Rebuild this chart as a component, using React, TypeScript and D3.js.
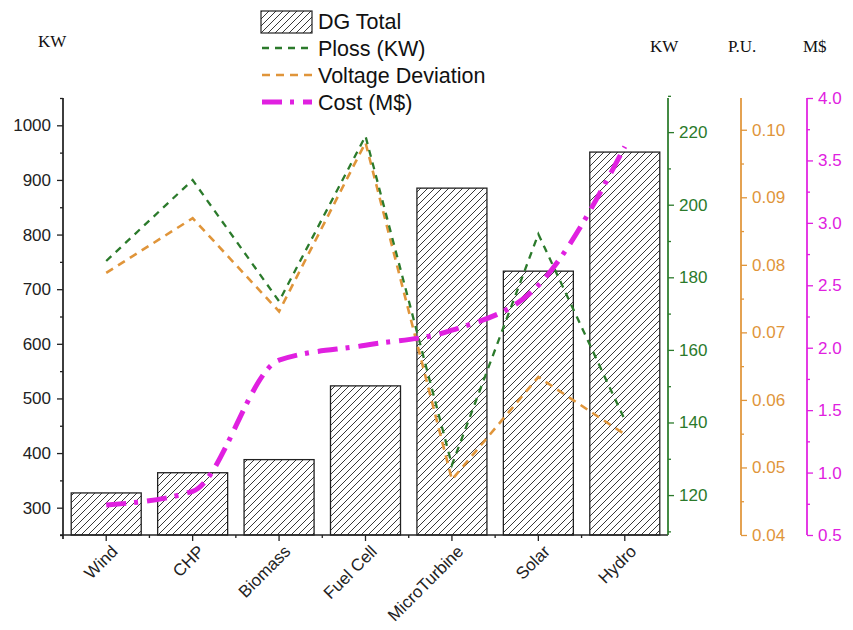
import React, { useEffect, useRef } from 'react';
import * as d3 from 'd3';

// values
const categories = ['Wind', 'CHP', 'Biomass', 'Fuel Cell', 'MicroTurbine', 'Solar', 'Hydro'];
const dgTotal = [327, 364, 388, 523, 885, 733, 951];
const ploss = [184.5, 206.8, 173.4, 218.9, 128.3, 191.9, 140.7];
const voltageDev = [0.0788, 0.0869, 0.0731, 0.0981, 0.0482, 0.0634, 0.0549];
const cost = [0.74, 0.85, 1.9, 2.02, 2.14, 2.5, 3.61];

const leftTicks = [300, 400, 500, 600, 700, 800, 900, 1000];
const plossTicks = [120, 140, 160, 180, 200, 220];
const voltTicks = [0.04, 0.05, 0.06, 0.07, 0.08, 0.09, 0.1];
const costTicks = [0.5, 1.0, 1.5, 2.0, 2.5, 3.0, 3.5, 4.0];

const GREEN = '#2b7a2b';
const ORANGE = '#e0953a';
const MAGENTA = '#e020e0';
const SANS = '"Liberation Sans", Arial, sans-serif';
const SERIF = '"Liberation Serif", "Times New Roman", serif';

export default function App() {
  const ref = useRef<SVGSVGElement>(null);

  useEffect(() => {
    const svg = d3.select(ref.current);
    svg.selectAll('*').remove();

    const top = 98, bottom = 535, left = 63, right = 668;

    const x = d3.scaleBand().domain(categories).range([left, right]).paddingInner(0.19).paddingOuter(0.095);
    const yL = d3.scaleLinear().domain([250, 1050]).range([bottom, top]);
    const yP = d3.scaleLinear().domain([109, 229.4]).range([bottom, top]);
    const yV = d3.scaleLinear().domain([0.04, 0.1047]).range([bottom, top]);
    const yC = d3.scaleLinear().domain([0.5, 4.0]).range([bottom, top]);

    const defs = svg.append('defs');
    const pat = defs.append('pattern')
      .attr('id', 'hatch').attr('patternUnits', 'userSpaceOnUse')
      .attr('width', 7).attr('height', 7);
    pat.append('path')
      .attr('d', 'M-1,1 l2,-2 M0,7 l7,-7 M6,8 l2,-2')
      .attr('stroke', '#222').attr('stroke-width', 0.9);

    // bars
    svg.append('g').selectAll('rect').data(dgTotal).join('rect')
      .attr('x', (d, i) => x(categories[i])!)
      .attr('y', d => yL(d))
      .attr('width', x.bandwidth())
      .attr('height', d => bottom - yL(d))
      .attr('fill', 'url(#hatch)')
      .attr('stroke', '#222').attr('stroke-width', 1.3);

    const cx = (i: number) => x(categories[i])! + x.bandwidth() / 2;

    // lines
    const lineP = d3.line<number>().x((d, i) => cx(i)).y(d => yP(d));
    const lineV = d3.line<number>().x((d, i) => cx(i)).y(d => yV(d));
    const lineC = d3.line<number>().x((d, i) => cx(i)).y(d => yC(d)).curve(d3.curveMonotoneX);

    svg.append('path').attr('d', lineV(voltageDev)!)
      .attr('fill', 'none').attr('stroke', ORANGE).attr('stroke-width', 2.6)
      .attr('stroke-dasharray', '8 6');
    svg.append('path').attr('d', lineP(ploss)!)
      .attr('fill', 'none').attr('stroke', GREEN).attr('stroke-width', 2.3)
      .attr('stroke-dasharray', '7 6');
    svg.append('path').attr('d', lineC(cost)!)
      .attr('fill', 'none').attr('stroke', MAGENTA).attr('stroke-width', 5)
      .attr('stroke-dasharray', '20 8 4 9');

    // axes
    const fontTick = (g: any, color: string) => {
      g.selectAll('text').attr('font-family', SANS).attr('font-size', 17).attr('fill', color);
      g.selectAll('line,path').attr('stroke', color).attr('stroke-width', 1.3);
    };

    const minor = (ticks: number[]) => {
      const out: number[] = [];
      for (let i = 0; i < ticks.length - 1; i++) out.push((ticks[i] + ticks[i + 1]) / 2);
      return out;
    };

    // left axis
    const gl = svg.append('g').attr('transform', `translate(${left},0)`);
    gl.call(d3.axisLeft(yL).tickValues(leftTicks).tickSize(6).tickSizeOuter(0).tickPadding(6).tickFormat(d3.format('d')));
    gl.append('g').call(d3.axisLeft(yL).tickValues([250, ...minor(leftTicks), 1050]).tickSize(3).tickSizeOuter(0).tickFormat(() => ''));
    fontTick(gl, '#222');
    gl.selectAll('.domain').attr('d', `M0,${top}V${bottom + 4}`);

    // bottom axis
    const gb = svg.append('g').attr('transform', `translate(0,${bottom})`);
    gb.call(d3.axisBottom(x).tickSize(6).tickSizeOuter(0).tickFormat(() => ''));
    const bounds = categories.slice(1).map(c => x(c)! - (x.step() - x.bandwidth()) / 2);
    gb.selectAll('line.minor').data(bounds).join('line').attr('class', 'minor')
      .attr('x1', d => d).attr('x2', d => d).attr('y1', 0).attr('y2', 3);
    fontTick(gb, '#222');
    gb.selectAll('.domain').attr('d', `M${left - 3},0H${right}`);

    svg.append('g').selectAll('text').data(categories).join('text')
      .attr('transform', (d, i) => `translate(${cx(i) + 4},${bottom + 9}) rotate(-45)`)
      .attr('text-anchor', 'end').attr('dy', '0.71em')
      .attr('font-family', SANS).attr('font-size', 17).attr('fill', '#222')
      .text(d => d);

    // right axes
    const rightAxis = (xp: number, scale: any, ticks: number[], fmt: any, color: string, extraMinor: number[]) => {
      const g = svg.append('g').attr('transform', `translate(${xp},0)`);
      g.call(d3.axisRight(scale).tickValues(ticks).tickSize(6).tickSizeOuter(0).tickPadding(5).tickFormat(fmt));
      g.append('g').call(d3.axisRight(scale).tickValues([...minor(ticks), ...extraMinor]).tickSize(3).tickSizeOuter(0).tickFormat(() => ''));
      fontTick(g, color);
      g.selectAll('.domain').attr('d', `M0,${top}V${bottom}`);
      return g;
    };
    rightAxis(right, yP, plossTicks, d3.format('d'), GREEN, [110, 230]);
    rightAxis(741, yV, voltTicks, d3.format('.2f'), ORANGE, []);
    rightAxis(807, yC, costTicks, d3.format('.1f'), MAGENTA, []);

    // unit labels
    const units = [
      { t: 'KW', x: 38 },
      { t: 'KW', x: 650 },
      { t: 'P.U.', x: 728 },
      { t: 'M$', x: 803 },
    ];
    svg.append('g').selectAll('text').data(units).join('text')
      .attr('x', d => d.x).attr('y', (d, i) => (i === 0 ? 47 : 52))
      .attr('font-family', SERIF).attr('font-size', 17).attr('fill', '#111')
      .text(d => d.t);

    // legend
    const lg = svg.append('g');
    lg.append('rect').attr('x', 261).attr('y', 11).attr('width', 51).attr('height', 22)
      .attr('fill', 'url(#hatch)').attr('stroke', '#222').attr('stroke-width', 1.2);
    const items = [
      { label: 'Ploss (KW)', color: GREEN, w: 2.3, dash: '7 6' },
      { label: 'Voltage Deviation', color: ORANGE, w: 2.6, dash: '8 6' },
      { label: 'Cost (M$)', color: MAGENTA, w: 5, dash: '20 8 4 9' },
    ];
    lg.append('text').attr('x', 318).attr('y', 29).attr('font-family', SANS).attr('font-size', 21.5).attr('fill', '#111').text('DG Total');
    items.forEach((it, i) => {
      const yy = 48 + i * 27;
      lg.append('line').attr('x1', 262).attr('x2', 312).attr('y1', yy).attr('y2', yy)
        .attr('stroke', it.color).attr('stroke-width', it.w).attr('stroke-dasharray', it.dash);
      lg.append('text').attr('x', 318).attr('y', yy + 7.5).attr('font-family', SANS).attr('font-size', 21.5).attr('fill', '#111').text(it.label);
    });
  }, []);

  return (
    <svg ref={ref} width={853} height={630}
      style={{ position: 'absolute', left: 0, top: 0, background: '#fff' }} />
  );
}
